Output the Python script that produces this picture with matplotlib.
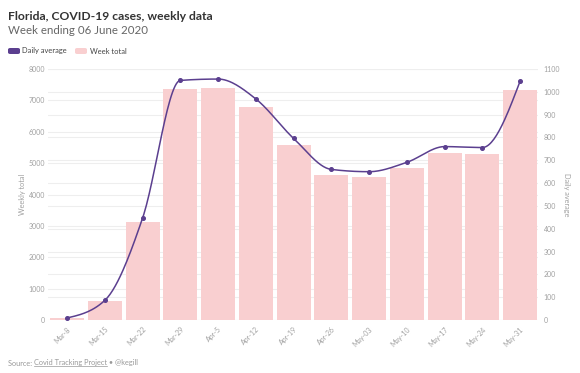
import numpy as np
import matplotlib
matplotlib.use("Agg")
import matplotlib.pyplot as plt
from matplotlib.patches import FancyBboxPatch

weeks = ["Mar-8", "Mar-15", "Mar-22", "Mar-29", "Apr-5", "Apr-12", "Apr-19",
         "Apr-26", "May-03", "May-10", "May-17", "May-24", "May-31"]
week_total = [65, 600, 3120, 7350, 7390, 6780, 5570, 4620, 4550, 4840, 5320, 5290, 7330]
daily_avg = [9, 86, 446, 1050, 1056, 969, 796, 660, 650, 691, 760, 756, 1047]
left_ticks = [0, 1000, 2000, 3000, 4000, 5000, 6000, 7000, 8000]
right_ticks = [0, 100, 200, 300, 400, 500, 600, 700, 800, 900, 1000, 1100]

PURPLE = "#5b3f8f"
PINK = "#f9cfd0"
GRID = "#eeeeee"
TICK = "#a0a0a0"
FONT = ["Lato", "DejaVu Sans"]
plt.rcParams["font.family"] = FONT


def monotone_x(x, y, n=30):
    x = np.asarray(x, float); y = np.asarray(y, float)
    m = len(x)
    h = np.diff(x); s = np.diff(y) / h
    t = np.zeros(m)
    for i in range(1, m - 1):
        s0, s1 = s[i - 1], s[i]
        p = (s0 * h[i] + s1 * h[i - 1]) / (h[i - 1] + h[i])
        t[i] = (np.sign(s0) + np.sign(s1)) * min(abs(s0), abs(s1), 0.5 * abs(p))
    t[0] = (3 * s[0] - t[1]) / 2
    t[-1] = (3 * s[-1] - t[-2]) / 2
    xs, ys = [], []
    for i in range(m - 1):
        u = np.linspace(0, 1, n)
        dx = h[i]
        p0, p3 = y[i], y[i + 1]
        p1 = y[i] + dx * t[i] / 3
        p2 = y[i + 1] - dx * t[i + 1] / 3
        bx = x[i] + u * dx
        by = (1 - u) ** 3 * p0 + 3 * (1 - u) ** 2 * u * p1 + 3 * (1 - u) * u ** 2 * p2 + u ** 3 * p3
        xs.append(bx); ys.append(by)
    return np.concatenate(xs), np.concatenate(ys)


fig = plt.figure(figsize=(5.8, 3.73), dpi=100)
ax = fig.add_axes([0.083, 0.142, 0.845, 0.673])
ax2 = ax.twinx()

xpos = np.arange(len(weeks))
LMAX, RMAX = 8000, 1100
ax.set_ylim(0, LMAX)
ax2.set_ylim(0, RMAX)
ax.set_xlim(-0.5, 12.48)

for v in left_ticks:
    ax.axhline(v, color=GRID, lw=0.8, zorder=0)
for v in right_ticks:
    ax.axhline(v * LMAX / RMAX, color=GRID, lw=0.8, zorder=0)

ax.bar(xpos, week_total, width=0.9, color=PINK, zorder=2)

cx, cy = monotone_x(xpos, daily_avg)
ax2.plot(cx, cy, color=PURPLE, lw=1.1, zorder=3)
ax2.plot(xpos, daily_avg, "o", color=PURPLE, ms=2.6, zorder=4)

for a in (ax, ax2):
    for sp in a.spines.values():
        sp.set_visible(False)
    a.tick_params(length=0, labelsize=5.0, colors=TICK)

ax.set_yticks(left_ticks)
ax.set_yticklabels([str(v) for v in left_ticks])
ax2.set_yticks(right_ticks)
ax2.set_yticklabels([str(v) for v in right_ticks])
ax.set_xticks(xpos)
ax.set_xticklabels(weeks, rotation=45, ha="right", rotation_mode="anchor")
ax.tick_params(axis="x", pad=4)
ax.tick_params(axis="y", pad=2)
ax2.tick_params(axis="y", pad=4)

ax.set_ylabel("Weekly total", fontsize=5.3, color=TICK, labelpad=2)
ax2.set_ylabel("Daily average", fontsize=5.3, color=TICK, rotation=270, labelpad=7)

fig.text(8 / 580, 1 - 16 / 373, "Florida, COVID-19 cases, weekly data", fontsize=8.7,
         fontweight="bold", color="#333333", va="center", ha="left")
fig.text(8 / 580, 1 - 31 / 373, "Week ending 06 June 2020", fontsize=8.3,
         color="#666666", va="center", ha="left")

# legend
ly = 1 - 51 / 373
for x0, col, lab, tx in [(8, PURPLE, "Daily average", 22.5), (75, PINK, "Week total", 89.5)]:
    fig.patches.append(FancyBboxPatch((x0 / 580, ly - 3 / 373), 12 / 580, 6 / 373,
                                      boxstyle="round,pad=0,rounding_size=0.004",
                                      transform=fig.transFigure, facecolor=col, edgecolor="none"))
    fig.text(tx / 580, ly, lab, fontsize=5.4, color="#444444", va="center", ha="left")

# footer
fy = 1 - 363 / 373
FS = 5.35
t1 = fig.text(8 / 580, fy, "Source: ", fontsize=FS, color="#999999", va="center", ha="left")
fig.canvas.draw()
r = fig.canvas.get_renderer()
bb = t1.get_window_extent(r)
t2 = fig.text(bb.x1 / 580, fy, "Covid Tracking Project", fontsize=FS, color="#999999",
              va="center", ha="left")
bb2 = t2.get_window_extent(r)
fig.add_artist(plt.Line2D([bb2.x0 / 580, bb2.x1 / 580], [(bb2.y0 + 0.3) / 373] * 2,
                          color="#999999", lw=0.5, transform=fig.transFigure))
fig.text(bb2.x1 / 580, fy, " • @kegill", fontsize=FS, color="#999999", va="center", ha="left")

fig.savefig("out.png", dpi=100)
